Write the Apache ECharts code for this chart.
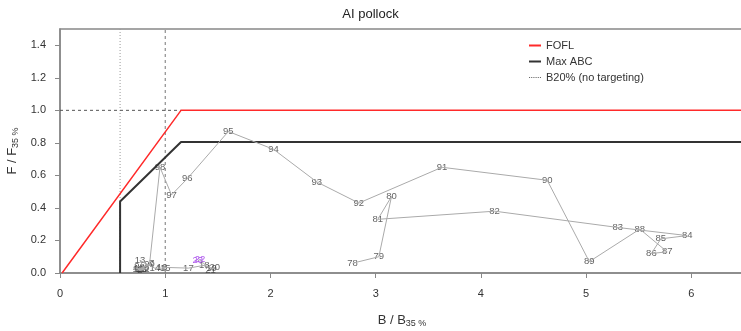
<!DOCTYPE html>
<html>
<head>
<meta charset="utf-8">
<script src="https://cdn.jsdelivr.net/npm/echarts@6/dist/echarts.min.js"></script>
<style>
  html, body { margin: 0; padding: 0; background: #fff; }
  #chart { width: 741px; height: 331px; }
</style>
</head>
<body>
<div id="chart"></div>
<script>
// year labels (year mod 100, like the R plot)
const years = ['78','79','80','81','82','83','84','85','86','87','88','89','90','91','92','93','94','95','96','97','98','99',
  '0','1','2','3','4','5','6','7','8','9','10','11','12','13','14','15','16','17','18','19','20','21','22','23'];
// B / B35%
const bRatio = [2.78,3.03,3.15,3.02,4.13,5.30,5.96,5.71,5.62,5.77,5.51,5.03,4.63,3.63,2.84,2.44,2.03,1.60,1.21,1.06,0.95,0.85,
  0.78,0.74,0.76,0.80,0.72,0.75,0.82,0.87,0.78,0.73,0.74,0.77,0.80,0.76,0.90,1.00,0.97,1.22,1.37,1.44,1.47,1.43,1.33,1.31];
// F / F35%
const fRatio = [0.06,0.10,0.47,0.33,0.38,0.28,0.23,0.21,0.12,0.13,0.27,0.07,0.57,0.65,0.43,0.56,0.76,0.87,0.58,0.48,0.65,0.05,
  0.03,0.02,0.015,0.02,0.03,0.025,0.03,0.058,0.035,0.04,0.025,0.02,0.025,0.078,0.03,0.03,0.035,0.03,0.047,0.03,0.033,0.017,0.082,0.075];
const projYears = ['22','23'];

// harvest control rules
const fofl = [[0.02, 0], [1.15, 1.0], [6.5, 1.0]];
const maxAbc = [[0.571, 0], [0.571, 0.44], [1.15, 0.805], [6.5, 0.805]];
const b20 = 0.571;

const xTicks = [0, 1, 2, 3, 4, 5, 6];
const yTicks = [0, 0.2, 0.4, 0.6, 0.8, 1.0, 1.2, 1.4];

const chart = echarts.init(document.getElementById('chart'));

const trajectory = bRatio.map((b, i) => [b, fRatio[i]]);
const labelPts = bRatio.map((b, i) => ({
  value: [b, fRatio[i]],
  name: years[i],
  label: { color: projYears.includes(years[i]) ? '#9a2de8' : '#3a3a3a' }
}));

const axisGray = '#888';
const font = 'Liberation Sans, Arial, sans-serif';
const lineIcon = 'path://M0,0h12v2h-12z';
const dotIcon = 'path://M0,0h1v1h-1z M2,0h1v1h-1z M4,0h1v1h-1z M6,0h1v1h-1z M8,0h1v1h-1z M10,0h1v1h-1z';

const option = {
  animation: false,
  textStyle: { fontFamily: font },
  title: {
    text: 'AI pollock',
    left: 'center',
    top: 3,
    textStyle: { fontSize: 13, fontWeight: 'normal', color: '#222', fontFamily: font }
  },
  legend: {
    left: 524,
    top: 35,
    orient: 'vertical',
    itemWidth: 12,
    itemHeight: 2,
    itemGap: 5,
    textStyle: { fontSize: 11, color: '#333', fontFamily: font },
    data: [
      { name: 'FOFL', icon: lineIcon, itemStyle: { color: '#ff2a2a' } },
      { name: 'Max ABC', icon: lineIcon, itemStyle: { color: '#333' } },
      { name: 'B20% (no targeting)', icon: dotIcon, itemStyle: { color: '#666' } }
    ]
  },
  grid: {
    left: 60, top: 29, right: -3, bottom: 58,
    outerBoundsMode: 'none',
    show: true, borderColor: axisGray, borderWidth: 1.5
  },
  xAxis: {
    type: 'value',
    min: 0, max: 6.5, interval: 1,
    name: 'B / B{sub|35 %}',
    nameLocation: 'middle',
    nameGap: 40,
    nameTextStyle: {
      fontSize: 13, color: '#333',
      rich: { sub: { fontSize: 9, verticalAlign: 'bottom', padding: [6, 0, 0, 0], color: '#333' } }
    },
    axisLine: { show: true, lineStyle: { color: axisGray, width: 1.5 } },
    axisTick: { show: true, length: 5, lineStyle: { color: axisGray }, customValues: xTicks },
    axisLabel: { fontSize: 11, color: '#333', margin: 15, customValues: xTicks },
    splitLine: { show: false }
  },
  yAxis: {
    type: 'value',
    min: 0, max: 1.5, interval: 0.2,
    name: 'F / F{sub|35 %}',
    nameLocation: 'middle',
    nameGap: 34,
    nameTextStyle: {
      fontSize: 13, color: '#333',
      rich: { sub: { fontSize: 9, verticalAlign: 'bottom', padding: [6, 0, 0, 0], color: '#333' } }
    },
    axisLine: { show: true, lineStyle: { color: axisGray, width: 1.5 } },
    axisTick: { show: true, length: 5, lineStyle: { color: axisGray }, customValues: yTicks },
    axisLabel: { fontSize: 11, color: '#333', margin: 14, customValues: yTicks, formatter: v => v.toFixed(1) },
    splitLine: { show: false }
  },
  series: [
    {
      name: 'B20% (no targeting)',
      type: 'line',
      symbol: 'none',
      data: [[b20, 0], [b20, 1.5]],
      lineStyle: { color: '#999', width: 1, type: [1, 2] },
      itemStyle: { color: '#999' }
    },
    {
      name: 'ref',
      type: 'line',
      symbol: 'none',
      data: [[1, 0], [1, 1.5]],
      lineStyle: { color: '#777', width: 1, type: [3, 3] },
      silent: true
    },
    {
      name: 'ref',
      type: 'line',
      symbol: 'none',
      data: [[0, 1], [1.15, 1]],
      lineStyle: { color: '#555', width: 1, type: [3, 3] },
      silent: true
    },
    {
      name: 'FOFL',
      type: 'line',
      symbol: 'none',
      data: fofl,
      lineStyle: { color: '#ff2a2a', width: 1.5 },
      itemStyle: { color: '#ff2a2a' }
    },
    {
      name: 'Max ABC',
      type: 'line',
      symbol: 'none',
      data: maxAbc,
      lineStyle: { color: '#333', width: 2 },
      itemStyle: { color: '#333' }
    },
    {
      name: 'traj',
      type: 'line',
      symbol: 'none',
      data: trajectory,
      lineStyle: { color: '#aaa', width: 1 },
      silent: true
    },
    {
      name: 'labels',
      type: 'scatter',
      symbolSize: 1,
      itemStyle: { color: 'rgba(0,0,0,0)' },
      data: labelPts,
      label: {
        show: true,
        position: 'inside',
        formatter: '{b}',
        fontSize: 9.5,
        fontFamily: font
      },
      silent: true
    }
  ]
};

chart.setOption(option);
</script>
</body>
</html>
